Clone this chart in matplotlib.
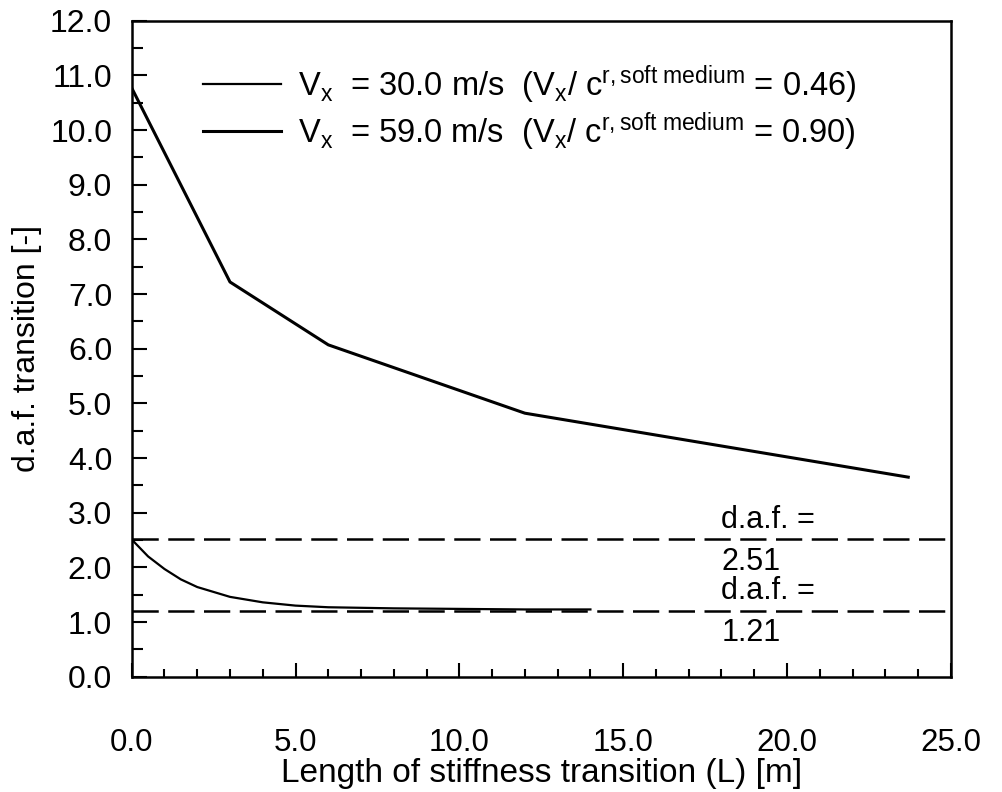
import matplotlib
matplotlib.use("Agg")
import matplotlib.pyplot as plt
from matplotlib.ticker import MultipleLocator, FormatStrFormatter

# data
L_fast = [0.0, 3.0, 6.0, 12.0, 23.7]
daf_fast = [10.77, 7.22, 6.07, 4.82, 3.65]

L_slow = [0.0, 0.5, 1.0, 1.5, 2.0, 3.0, 4.0, 5.0, 6.0, 8.0, 10.0, 12.0, 14.0]
daf_slow = [2.51, 2.2, 1.97, 1.78, 1.64, 1.46, 1.36, 1.30, 1.27, 1.25, 1.24, 1.23, 1.23]

daf_limits = [2.51, 1.21]

label_slow = r"V$_\mathrm{x}$  = 30.0 m/s  (V$_\mathrm{x}$/ c$^\mathrm{r,soft\ medium}$ = 0.46)"
label_fast = r"V$_\mathrm{x}$  = 59.0 m/s  (V$_\mathrm{x}$/ c$^\mathrm{r,soft\ medium}$ = 0.90)"

plt.rcParams["font.family"] = ["Liberation Sans", "DejaVu Sans"]
plt.rcParams["mathtext.fontset"] = "custom"
plt.rcParams["mathtext.rm"] = "Liberation Sans"
plt.rcParams["mathtext.it"] = "Liberation Sans"

fig = plt.figure(figsize=(10.03, 7.92), dpi=100)
ax = fig.add_axes([0.1313, 0.1456, 0.8167, 0.8283])

ln_slow, = ax.plot(L_slow, daf_slow, color="black", lw=1.6)
ln_fast, = ax.plot(L_fast, daf_fast, color="black", lw=2.2)

for v in daf_limits:
    ax.axhline(v, color="black", lw=1.8, dashes=(10.5, 3.8))
    ax.text(18.0, v + 0.21, "d.a.f. =", ha="left", va="baseline", fontsize=22)
    ax.text(18.0, v - 0.13, f"{v:.2f}", ha="left", va="top", fontsize=22)

ax.set_xlim(0, 25)
ax.set_ylim(0, 12)
ax.xaxis.set_major_locator(MultipleLocator(5))
ax.xaxis.set_minor_locator(MultipleLocator(1))
ax.yaxis.set_major_locator(MultipleLocator(1))
ax.yaxis.set_minor_locator(MultipleLocator(0.5))
ax.xaxis.set_major_formatter(FormatStrFormatter("%.1f"))
ax.yaxis.set_major_formatter(FormatStrFormatter("%.1f"))

ax.tick_params(axis="both", which="both", direction="in", width=1.5)
ax.tick_params(axis="x", which="major", length=10, pad=37, labelsize=22.5)
ax.tick_params(axis="x", which="minor", length=6)
ax.tick_params(axis="y", which="major", length=11, pad=14, labelsize=23)
ax.tick_params(axis="y", which="minor", length=8)
ax.tick_params(top=False, right=False, which="both")

for s in ax.spines.values():
    s.set_linewidth(1.8)

ax.set_xlabel("Length of stiffness transition (L) [m]", fontsize=24, labelpad=0)
ax.set_ylabel("d.a.f. transition [-]", fontsize=23, labelpad=6)

ax.legend([ln_slow, ln_fast], [label_slow, label_fast], loc="upper left",
          bbox_to_anchor=(0.087, 0.935), frameon=False, fontsize=23.5,
          handlelength=2.4, handletextpad=0.5, labelspacing=0.12,
          borderpad=0, borderaxespad=0)

fig.savefig("out.png", dpi=100, facecolor="white")
